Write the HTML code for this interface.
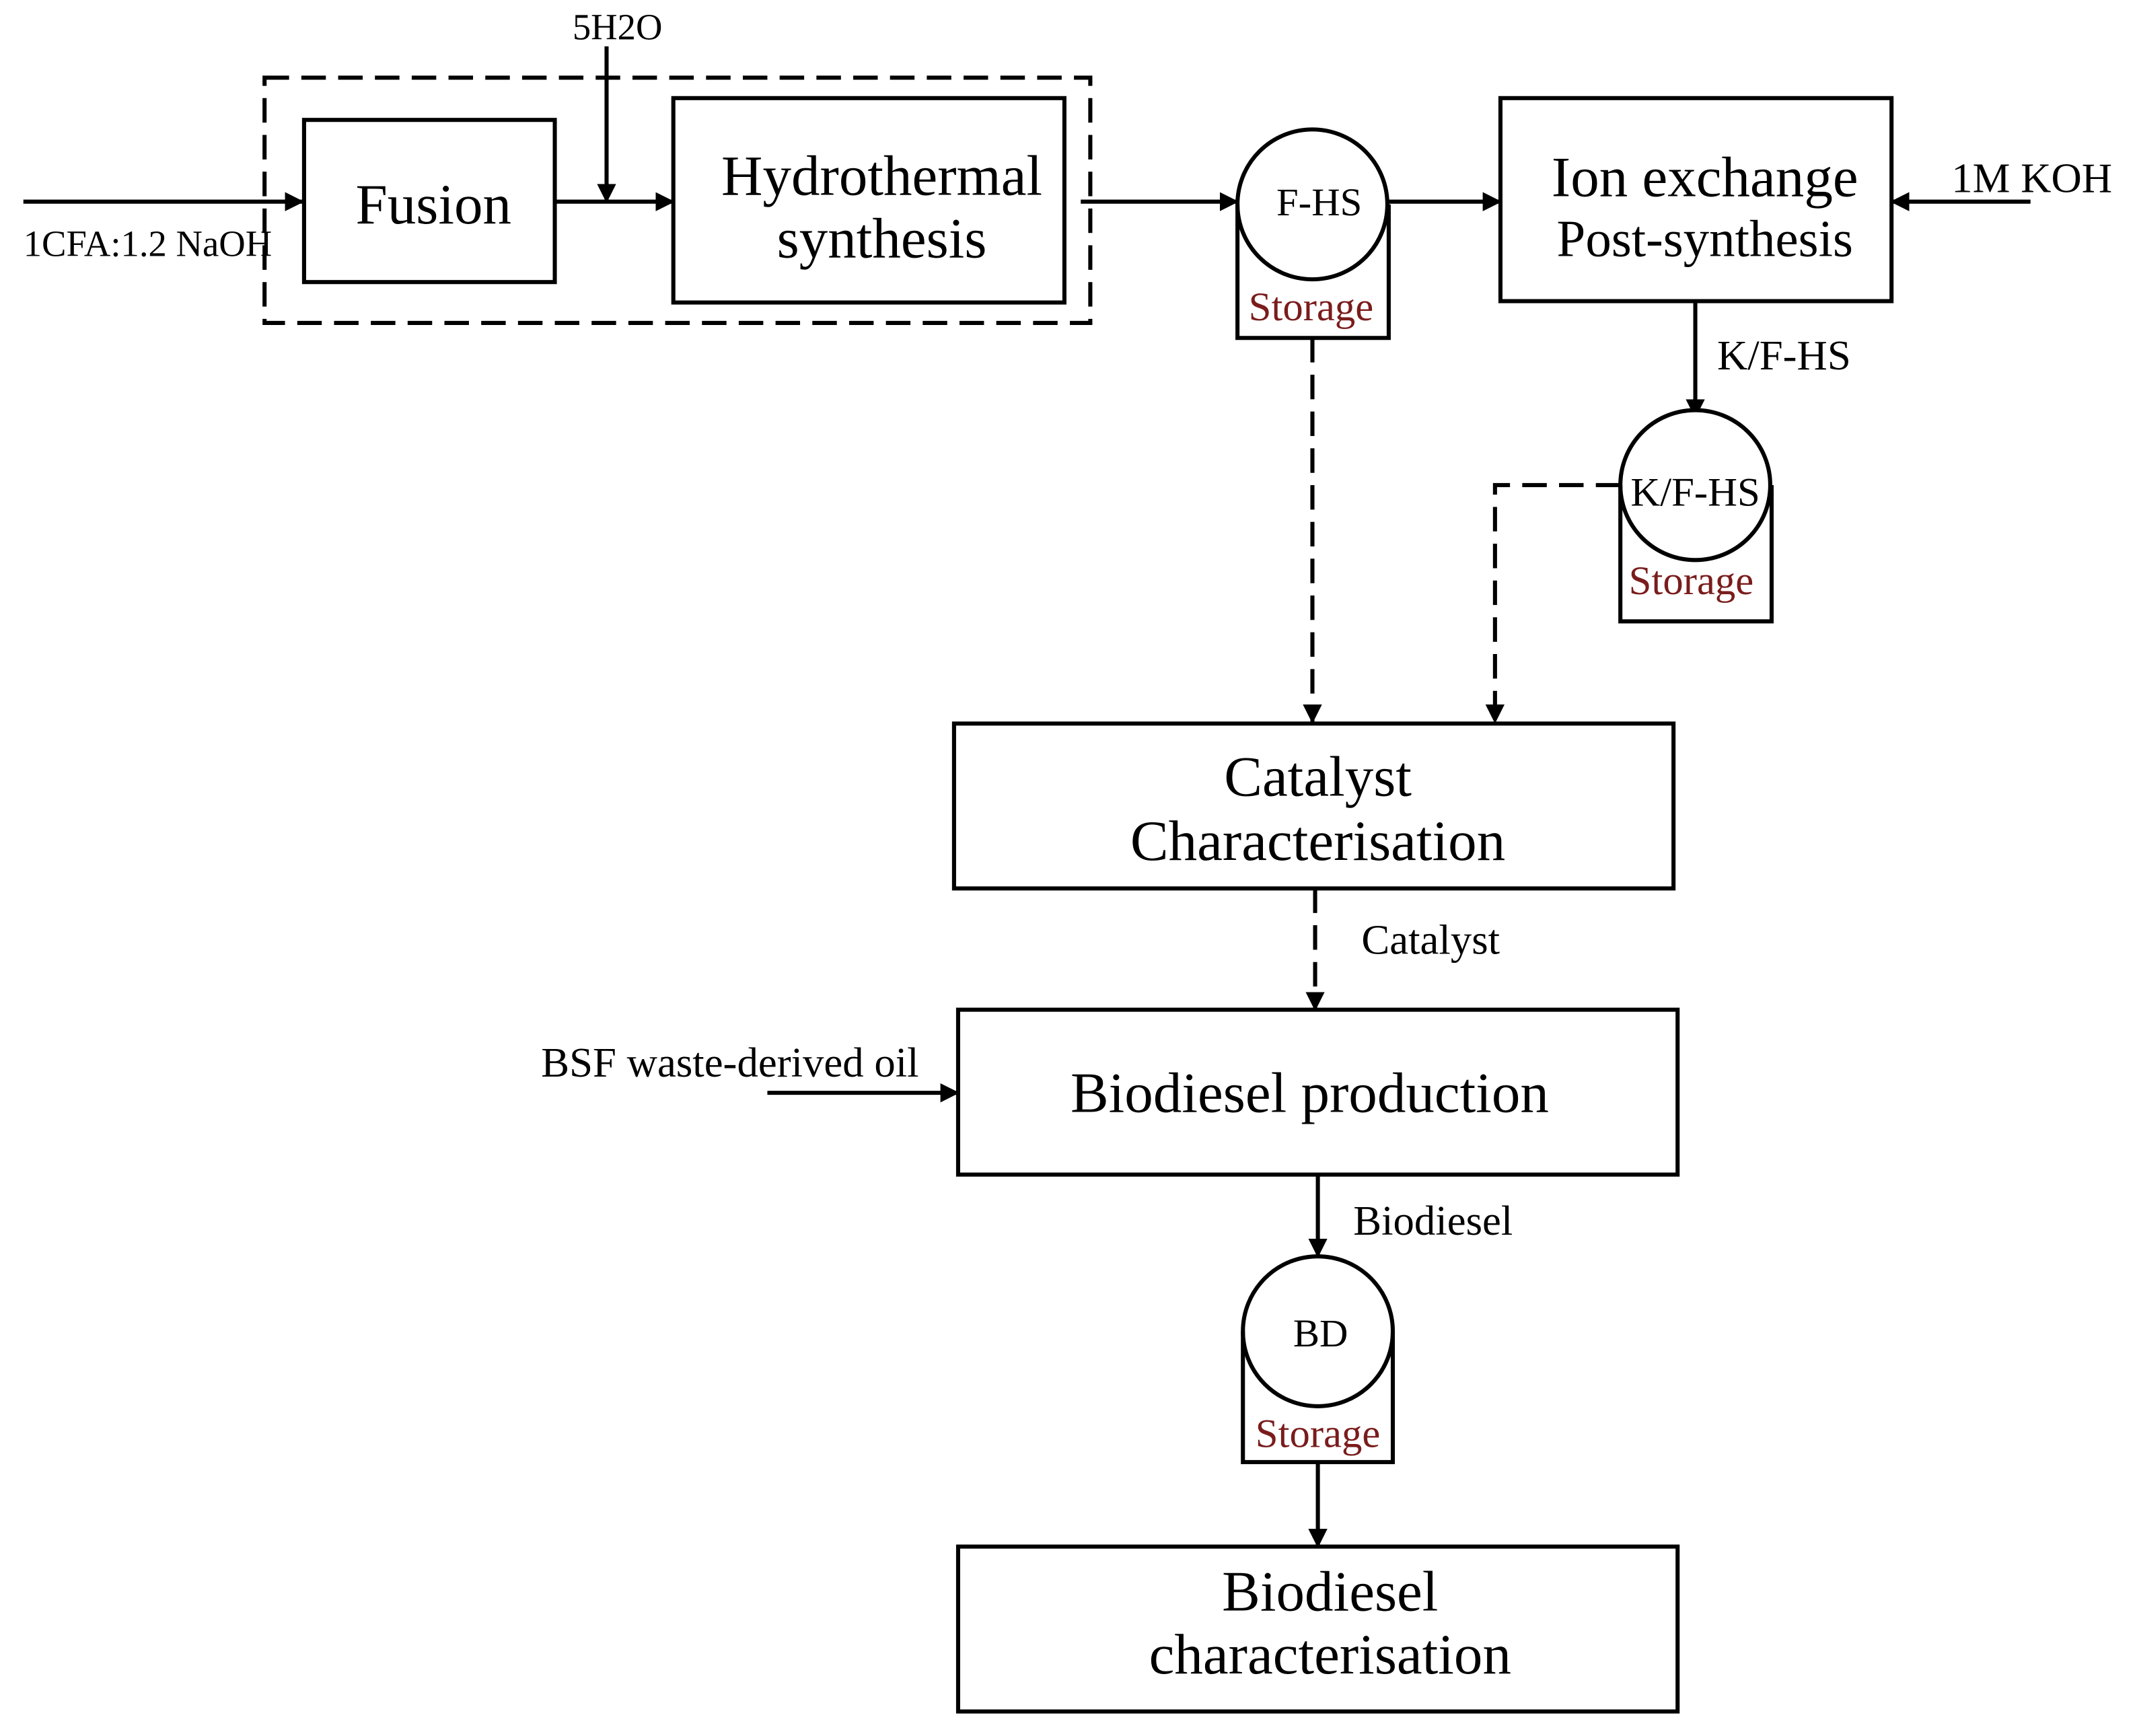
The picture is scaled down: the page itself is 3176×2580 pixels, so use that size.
<!DOCTYPE html>
<html><head><meta charset="utf-8"><style>
html,body{margin:0;padding:0;background:#fff;}
svg{display:block;}
text{font-family:"Liberation Serif",serif;fill:#000;}
</style></head><body>
<svg width="3176" height="2580" viewBox="0 0 1568 1274" xmlns="http://www.w3.org/2000/svg">
<defs>
<marker id="b" markerWidth="14" markerHeight="14" refX="13" refY="7" orient="auto" markerUnits="userSpaceOnUse" viewBox="0 0 14 14">
<path d="M0,0 L14,7 L0,14 z" fill="#000"/>
</marker>
</defs>
<g stroke="#000" stroke-width="3" fill="none">
<rect x="194" y="57" width="606" height="180" stroke-dasharray="18,9"/>
<rect x="223" y="88" width="184" height="119"/>
<rect x="494" y="72" width="287" height="150"/>
<rect x="1101" y="72" width="287" height="149"/>
<rect x="700" y="531" width="528" height="121"/>
<rect x="703" y="741" width="528" height="121"/>
<rect x="703" y="1135" width="528" height="121"/>
<line x1="17" y1="148" x2="222" y2="148" marker-end="url(#b)"/>
<line x1="407" y1="148" x2="494" y2="148" marker-end="url(#b)"/>
<line x1="445" y1="34" x2="445" y2="148" marker-end="url(#b)"/>
<line x1="793" y1="148" x2="908" y2="148" marker-end="url(#b)"/>
<line x1="1019" y1="148" x2="1101" y2="148" marker-end="url(#b)"/>
<line x1="1490" y1="148" x2="1388" y2="148" marker-end="url(#b)"/>
<line x1="1244" y1="221" x2="1244" y2="306" marker-end="url(#b)"/>
<line x1="563" y1="802" x2="703" y2="802" marker-end="url(#b)"/>
<line x1="967" y1="862" x2="967" y2="922" marker-end="url(#b)"/>
<line x1="967" y1="1073" x2="967" y2="1135" marker-end="url(#b)"/>
<line x1="963" y1="248" x2="963" y2="530" stroke-dasharray="18,9" marker-end="url(#b)"/>
<polyline points="1189,356 1097,356 1097,530" stroke-dasharray="18,9" marker-end="url(#b)"/>
<line x1="965" y1="652" x2="965" y2="741" stroke-dasharray="18,9" marker-end="url(#b)"/>
<circle cx="963" cy="150" r="55" fill="#fff"/>
<polyline points="908,150 908,248 1019,248 1019,150"/>
<circle cx="1244" cy="356" r="55" fill="#fff"/>
<polyline points="1189,356 1189,456 1300,456 1300,356"/>
<circle cx="967" cy="977" r="55" fill="#fff"/>
<polyline points="912,977 912,1073 1022,1073 1022,977"/>
</g>
<g font-size="42" text-anchor="middle">
<text x="318" y="164">Fusion</text>
<text x="647" y="143">Hydrothermal</text>
<text x="647" y="189">synthesis</text>
<text x="1251" y="144">Ion exchange</text>
<text x="1251" y="188" font-size="38">Post-synthesis</text>
<text x="967" y="584">Catalyst</text>
<text x="967" y="631">Characterisation</text>
<text x="961" y="816">Biodiesel production</text>
<text x="976" y="1182">Biodiesel</text>
<text x="976" y="1228">characterisation</text>
</g>
<g font-size="27">
<text x="17" y="188">1CFA:1.2 NaOH</text>
<text x="420" y="29">5H2O</text>
<text x="1432" y="141" font-size="31">1M KOH</text>
<text x="1260" y="271" font-size="31">K/F-HS</text>
<text x="999" y="700" font-size="31">Catalyst</text>
<text x="397" y="790" font-size="31">BSF waste-derived oil</text>
<text x="993" y="906" font-size="31">Biodiesel</text>
<text x="968" y="158" text-anchor="middle" font-size="29">F-HS</text>
<text x="1244" y="371" text-anchor="middle" font-size="30">K/F-HS</text>
<text x="969" y="988" text-anchor="middle" font-size="29">BD</text>
</g>
<g font-size="30" text-anchor="middle">
<text x="962" y="235" style="fill:#7a1c1c">Storage</text>
<text x="1241" y="436" style="fill:#7a1c1c">Storage</text>
<text x="967" y="1062" style="fill:#7a1c1c">Storage</text>
</g>
</svg>
</body></html>
